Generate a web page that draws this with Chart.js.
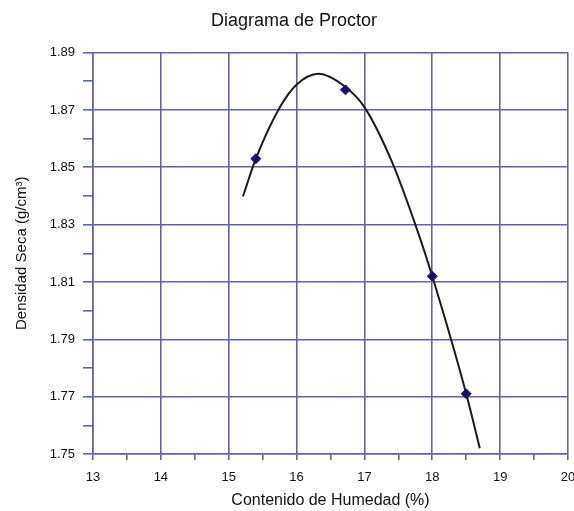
<!DOCTYPE html>
<html>
<head>
<meta charset="utf-8">
<script src="https://cdn.jsdelivr.net/npm/chart.js@4/dist/chart.umd.min.js"></script>
<style>
html,body{margin:0;padding:0;background:#fff;}
#wrap{width:574px;height:511px;position:relative;}
</style>
</head>
<body>
<div id="wrap"><canvas id="c" width="574" height="511"></canvas></div>
<script>
// Measured points (moisture %, dry density g/cm3)
const moisture = [15.4, 16.72, 18.0, 18.5];
const density = [1.853, 1.877, 1.812, 1.771];
// Trend curve
const curveX = [15.21, 15.40, 15.76, 16.00, 16.32, 16.72, 17.00, 17.40, 17.80, 18.00, 18.50, 18.70];
const curveY = [1.8398, 1.8530, 1.8712, 1.8788, 1.8826, 1.8780, 1.8710, 1.8522, 1.8266, 1.8120, 1.7710, 1.7520];
const xTicksMajor = [13, 14, 15, 16, 17, 18, 19, 20];
const yTicksMajor = ['1.75', '1.77', '1.79', '1.81', '1.83', '1.85', '1.87', '1.89'];

const gridCol = 'rgb(98,98,168)';
const font = 'Liberation Sans, Arial, sans-serif';

const isMajorY = v => Math.round(v * 100) % 2 === 1;
const isMajorX = v => Math.abs(v - Math.round(v)) < 1e-6;

new Chart(document.getElementById('c'), {
  type: 'scatter',
  data: {
    datasets: [
      {
        type: 'line',
        data: curveX.map((x, i) => ({x, y: curveY[i]})),
        borderColor: '#1a1a1a',
        borderWidth: 2,
        pointRadius: 0,
        cubicInterpolationMode: 'monotone',
        fill: false,
        order: 2
      },
      {
        data: moisture.map((x, i) => ({x, y: density[i]})),
        backgroundColor: '#141466',
        borderColor: '#141466',
        pointStyle: 'rectRot',
        pointRadius: 5,
        order: 1
      }
    ]
  },
  options: {
    responsive: false,
    animation: false,
    layout: {padding: {left: 20, right: 6, top: 0, bottom: 0}},
    plugins: {
      legend: {display: false},
      tooltip: {enabled: false},
      title: {
        display: true,
        text: 'Diagrama de Proctor',
        color: '#111',
        font: {family: font, size: 18, weight: 'normal'},
        padding: {top: 10, bottom: 21}
      }
    },
    scales: {
      x: {
        type: 'linear',
        min: 13, max: 20,
        ticks: {
          stepSize: 0.5,
          autoSkip: false,
          maxRotation: 0,
          padding: 10,
          color: '#111',
          font: {family: font, size: 13},
          callback: v => isMajorX(v) && xTicksMajor.includes(Math.round(v)) ? String(Math.round(v)) : ''
        },
        grid: {
          color: c => (c.tick && isMajorX(c.tick.value)) ? gridCol : 'rgba(0,0,0,0)',
          tickColor: gridCol,
          lineWidth: 1.6,
          tickLength: 6
        },
        border: {color: gridCol, width: 1.6},
        title: {
          display: true,
          text: 'Contenido de Humedad (%)',
          color: '#111',
          font: {family: font, size: 16},
          padding: {top: 0, bottom: 1}
        },
        afterFit: s => { s.height = 57; s.paddingRight = 0; s.paddingLeft = 0; }
      },
      y: {
        type: 'linear',
        min: 1.75, max: 1.89,
        ticks: {
          stepSize: 0.01,
          autoSkip: false,
          padding: 8,
          color: '#111',
          font: {family: font, size: 13},
          callback: v => isMajorY(v) ? yTicksMajor[Math.round((Math.round(v*100) - 175) / 2)] : ''
        },
        grid: {
          color: c => (c.tick && isMajorY(c.tick.value)) ? gridCol : 'rgba(0,0,0,0)',
          tickColor: gridCol,
          lineWidth: 1.6,
          tickLength: 10
        },
        border: {color: gridCol, width: 1.6},
        title: {
          display: true,
          text: 'Densidad Seca (g/cm³)',
          color: '#111',
          font: {family: font, size: 15},
          padding: {top: -7, bottom: 0}
        },
        afterFit: s => { s.width = 73; }
      }
    }
  }
});
</script>
</body>
</html>
